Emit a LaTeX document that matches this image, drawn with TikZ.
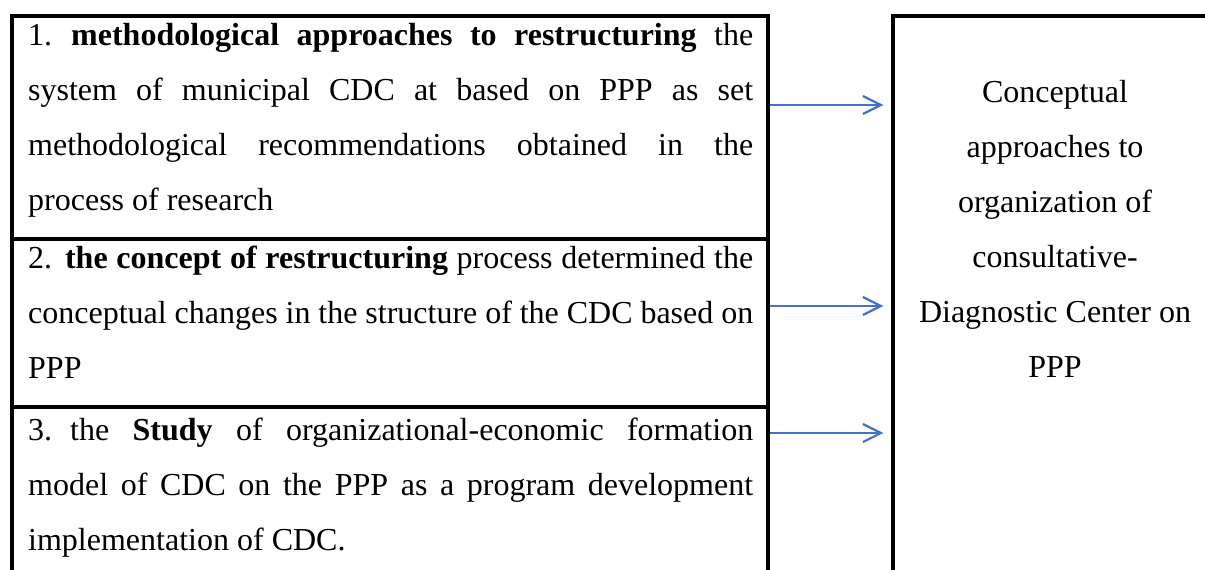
\documentclass[tikz,border=0pt]{standalone}
\usepackage{fontspec}
\setmainfont{Liberation Serif}
\usepackage{xcolor}
\usetikzlibrary{arrows.meta, positioning}
\definecolor{cArrow}{RGB}{68,114,196}
\tikzset{
	cell/.style     ={rectangle, draw=black, line width=3.2pt, inner sep=0pt},
	celltext/.style ={anchor=base west, inner sep=0pt, align=left, font=\fontsize{32}{55}\selectfont},
	conctext/.style ={anchor=base, inner sep=0pt, align=center, font=\fontsize{32}{55}\selectfont},
	flowarrow/.style={-{Straight Barb[length=18pt, width=18pt]}, draw=cArrow, line width=2.2pt, shorten >=8pt},
}
\newcommand{\jline}[1]{\makebox[725pt][s]{#1}}

\begin{document}
\begin{tikzpicture}[x=1pt, y=-1pt]
	\useasboundingbox (0,0) rectangle (1205,570);
	\clip (0,0) rectangle (1205,570);
	% left column, one cell per item
	\node[cell, minimum width=756pt, minimum height=223pt] (cell1) at (390,127.5) {};
	\node[cell, minimum width=756pt, minimum height=168pt] (cell2) at (390,323) {};
	\node[cell, minimum width=756pt, minimum height=203pt] (cell3) at (390,508.5) {};
	\node[cell, minimum width=324pt, minimum height=594pt] (concept) at (1055,313) {};
	% texts, placed at the baseline of their last line
	\node[celltext] (txt1) at (28,210)
		{\jline{1.\hspace{19pt}\textbf{methodological approaches to restructuring} the}\\
		 \jline{system of municipal CDC at based on PPP as set}\\
		 \jline{methodological recommendations obtained in the}\\
		 process of research};
	\node[celltext] (txt2) at (28,378)
		{\jline{2. \textbf{the concept of restructuring} process determined the}\\
		 \jline{conceptual changes in the structure of the CDC based on}\\
		 PPP};
	\node[celltext] (txt3) at (28,550)
		{\jline{3.\hspace{18pt}the \textbf{Study} of organizational-economic formation}\\
		 \jline{model of CDC on the PPP as a program development}\\
		 implementation of CDC.};
	\node[conctext] (conctxt) at (1055,377)
		{Conceptual\\ approaches to\\ organization of\\ consultative-\\ Diagnostic Center on\\ PPP};
	% arrows into the concept box
	\coordinate (a1) at (0,105);
	\coordinate (a2) at (0,306);
	\coordinate (a3) at (0,433);
	\draw[flowarrow] (cell1.east |- a1) -- (concept.west |- a1);
	\draw[flowarrow] (cell2.east |- a2) -- (concept.west |- a2);
	\draw[flowarrow] (cell3.east |- a3) -- (concept.west |- a3);
\end{tikzpicture}
\end{document}
